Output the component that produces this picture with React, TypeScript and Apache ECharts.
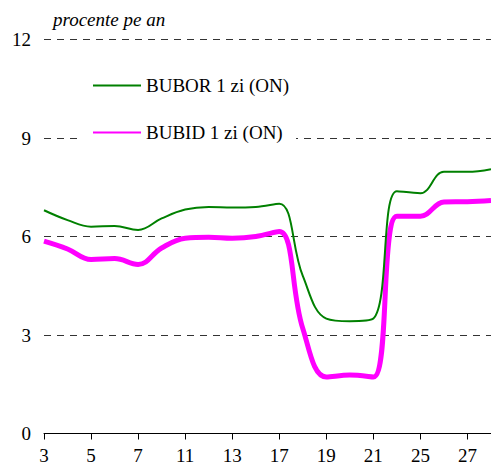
import React, { useEffect, useRef } from "react";
import * as echarts from "echarts";

const categories = ["3", "4", "5", "6", "7", "10", "11", "12", "13", "14", "17", "18", "19", "20", "21", "24", "25", "26", "27", "28"];
const buborValues = [6.8, 6.5, 6.3, 6.32, 6.2, 6.55, 6.82, 6.9, 6.88, 6.9, 7.0, 4.8, 3.5, 3.42, 3.5, 7.38, 7.32, 7.97, 7.97, 8.05];
const bubidValues = [5.86, 5.62, 5.3, 5.33, 5.15, 5.65, 5.95, 5.98, 5.95, 6.0, 6.15, 3.2, 1.72, 1.78, 1.72, 6.62, 6.62, 7.05, 7.06, 7.1];
const seriesNames = ["BUBOR 1 zi (ON)", "BUBID 1 zi (ON)"];
const yTicks = [0, 3, 6, 9, 12];
const unitLabel = "procente pe an";

const FONT = "Liberation Serif, Times New Roman, serif";

export default function App() {
  const ref = useRef<HTMLDivElement>(null);
  useEffect(() => {
    if (!ref.current) return;
    const chart = echarts.init(ref.current, null, { renderer: "svg" });
    chart.setOption({
      animation: false,
      backgroundColor: "#ffffff",
      title: {
        text: unitLabel,
        left: 53,
        top: 10,
        padding: 0,
        textStyle: { fontFamily: FONT, fontStyle: "italic", fontWeight: "normal", fontSize: 19, color: "#000" },
      },
      legend: {
        orient: "vertical",
        left: 80,
        top: 66,
        padding: [10, 7, 8, 12],
        backgroundColor: "#ffffff",
        itemWidth: 48,
        itemHeight: 14,
        itemGap: 28,
        itemStyle: { opacity: 0 },
        textStyle: { fontFamily: FONT, fontSize: 19, color: "#000" },
        data: seriesNames,
      },
      grid: { left: 44, right: -6, top: 39.5, bottom: 32.5, containLabel: false },
      xAxis: {
        type: "category",
        data: categories,
        boundaryGap: false,
        axisLine: { show: true, lineStyle: { color: "#000", width: 1 } },
        axisTick: { show: true, interval: 1, length: 6, lineStyle: { color: "#000" } },
        axisLabel: { interval: 1, margin: 12, fontFamily: FONT, fontSize: 19, color: "#000" },
        splitLine: { show: false },
      },
      yAxis: {
        type: "value",
        min: yTicks[0],
        max: yTicks[yTicks.length - 1],
        interval: 3,
        axisLine: { show: false },
        axisTick: { show: false },
        axisLabel: { margin: 13, fontFamily: FONT, fontSize: 19, color: "#000" },
        splitLine: { show: true, lineStyle: { color: "#333", type: [7, 6], width: 1 } },
      },
      series: [
        {
          name: seriesNames[0],
          type: "line",
          data: buborValues,
          smooth: 0.4,
          symbol: "none",
          lineStyle: { color: "#008000", width: 2 },
          itemStyle: { color: "#008000" },
          z: 3,
        },
        {
          name: seriesNames[1],
          type: "line",
          data: bubidValues,
          smooth: 0.4,
          symbol: "none",
          lineStyle: { color: "#ff00ff", width: 5 },
          itemStyle: { color: "#ff00ff" },
          z: 2,
        },
      ],
    });
    return () => chart.dispose();
  }, []);
  return (
    <div
      ref={ref}
      style={{ position: "absolute", left: 0, top: 0, width: 491, height: 466 }}
    />
  );
}
